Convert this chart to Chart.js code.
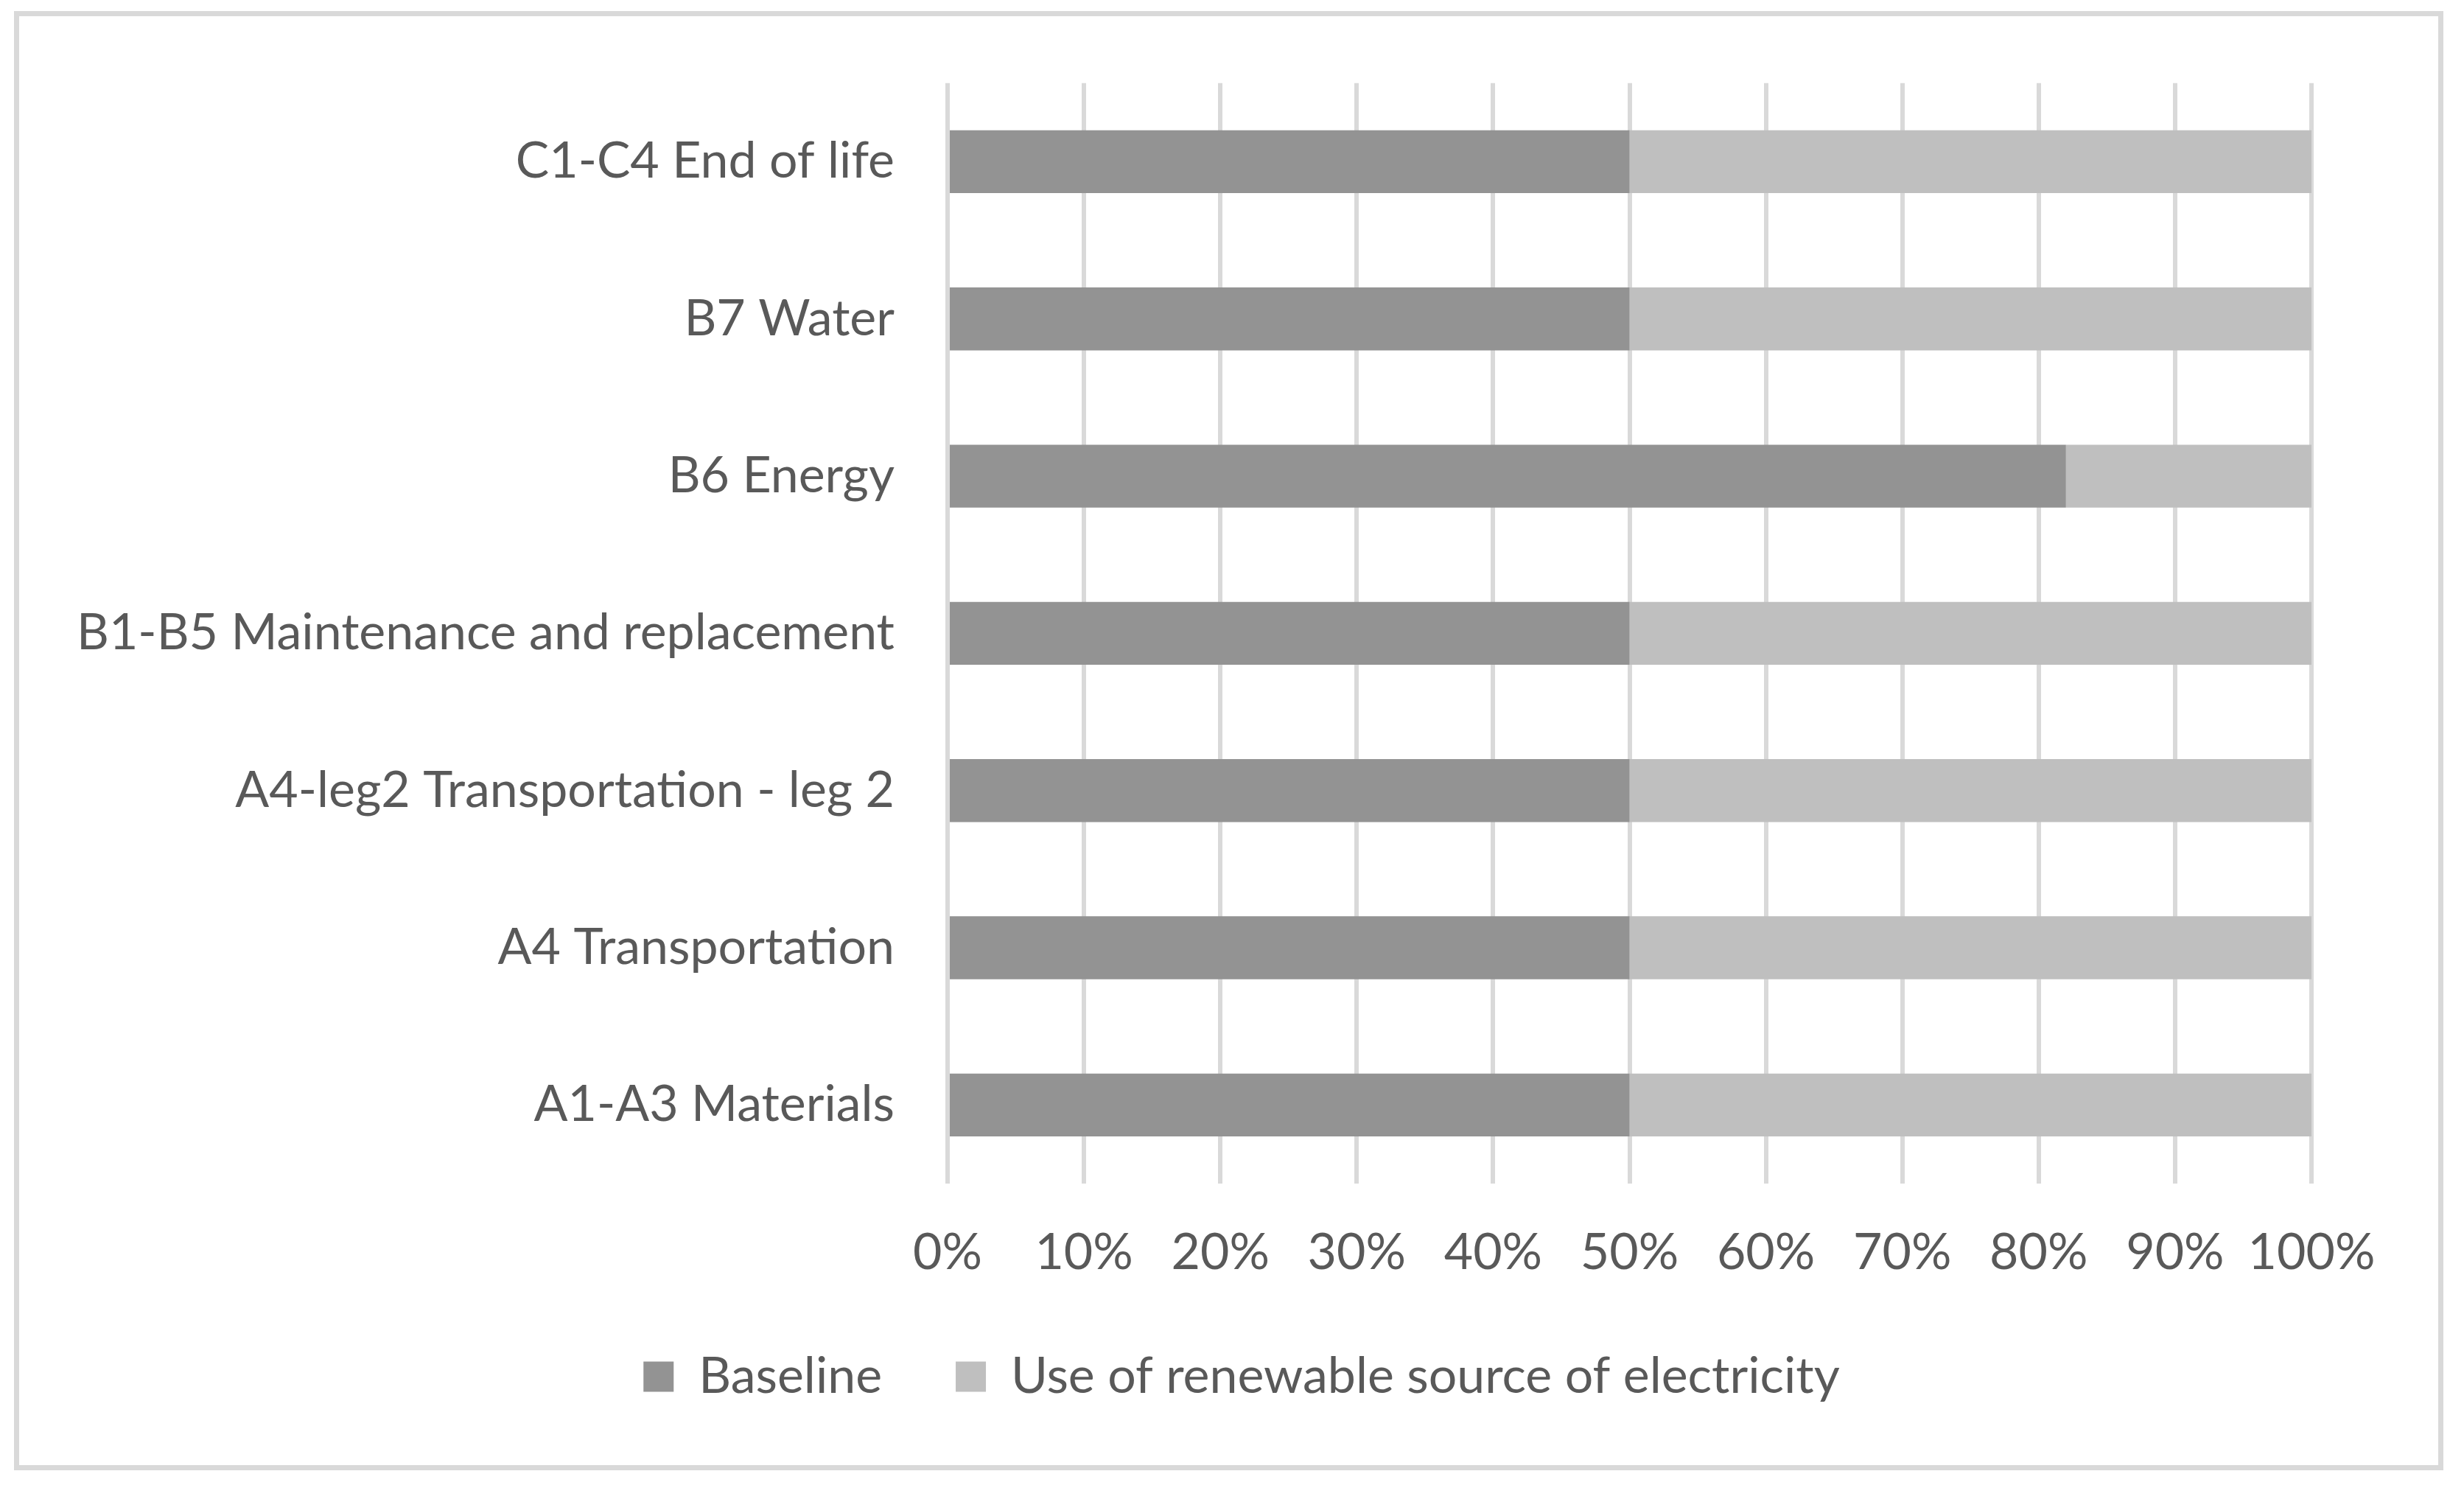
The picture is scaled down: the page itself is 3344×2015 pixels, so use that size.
<!DOCTYPE html>
<html>
<head>
<meta charset="utf-8">
<script src="https://cdn.jsdelivr.net/npm/chart.js@4"></script>
<style>
    html, body { margin: 0; padding: 0; background: #ffffff; }
    #wrap { position: relative; width: 3344px; height: 2015px; }
    #frame {
        position: absolute; left: 19px; top: 15px; width: 3297px; height: 1980px;
        box-sizing: border-box; border: 7px solid #d9d9d9; pointer-events: none;
    }
    canvas { position: absolute; left: 0; top: 0; }
</style>
</head>
<body>
<div id="wrap">
    <canvas id="barChart" width="3344" height="2015"></canvas>
    <div id="frame"></div>
</div>
<script>
// Data (top to bottom, as in the picture)
var stages = [
    'C1-C4 End of life',
    'B7 Water',
    'B6 Energy',
    'B1-B5 Maintenance and replacement',
    'A4-leg2 Transportation - leg 2',
    'A4 Transportation',
    'A1-A3 Materials'
];
var baseline = [50, 50, 82, 50, 50, 50, 50];
var renewable = [50, 50, 18, 50, 50, 50, 50];
var seriesNames = ['Baseline', 'Use of renewable source of electricity'];
var xTicks = [0, 10, 20, 30, 40, 50, 60, 70, 80, 90, 100];

var textColor = '#595959';
var fontFamily = 'Lato, "Open Sans", sans-serif';
var fontSize = 68;

document.addEventListener('DOMContentLoaded', function() {
    var ctx = document.getElementById('barChart').getContext('2d');

    var barChart = new Chart(ctx, {
        type: 'bar',
        data: {
            labels: stages,
            datasets: [{
                label: seriesNames[0],
                data: baseline,
                backgroundColor: '#939393',
                borderWidth: 0,
                barPercentage: 0.4,
                categoryPercentage: 1
            }, {
                label: seriesNames[1],
                data: renewable,
                backgroundColor: '#bfbfbf',
                borderWidth: 0,
                barPercentage: 0.4,
                categoryPercentage: 1
            }]
        },
        options: {
            indexAxis: 'y',
            responsive: false,
            animation: false,
            devicePixelRatio: 1,
            layout: {
                padding: { top: 108, left: 26, right: 0, bottom: 103 }
            },
            plugins: {
                tooltip: { enabled: false },
                legend: {
                    position: 'bottom',
                    labels: {
                        color: textColor,
                        font: { family: fontFamily, size: fontSize },
                        boxWidth: 41,
                        boxHeight: 41,
                        padding: 100
                    }
                }
            },
            scales: {
                x: {
                    stacked: true,
                    min: 0,
                    max: 100,
                    afterBuildTicks: function(scale) {
                        scale.ticks = xTicks.map(function(v) { return { value: v }; });
                    },
                    afterFit: function(scale) {
                        scale.height = 128;
                    },
                    ticks: {
                        color: textColor,
                        font: { family: fontFamily, size: fontSize, lineHeight: 1 },
                        padding: 60,
                        maxRotation: 0,
                        callback: function(value) { return value + '%'; }
                    },
                    grid: {
                        color: '#d9d9d9',
                        lineWidth: 6,
                        drawTicks: false
                    },
                    border: { display: false }
                },
                y: {
                    stacked: true,
                    afterFit: function(scale) {
                        scale.width = 1260;
                    },
                    ticks: {
                        color: textColor,
                        font: { family: fontFamily, size: fontSize },
                        padding: 72
                    },
                    grid: { display: false, drawTicks: false },
                    border: { display: false }
                },
                // empty right-hand axis, only keeps the space right of the plot
                yRight: {
                    position: 'right',
                    afterFit: function(scale) {
                        scale.width = 207;
                    },
                    ticks: { display: false },
                    grid: { display: false, drawTicks: false },
                    border: { display: false }
                }
            }
        }
    });
});
</script>
</body>
</html>
